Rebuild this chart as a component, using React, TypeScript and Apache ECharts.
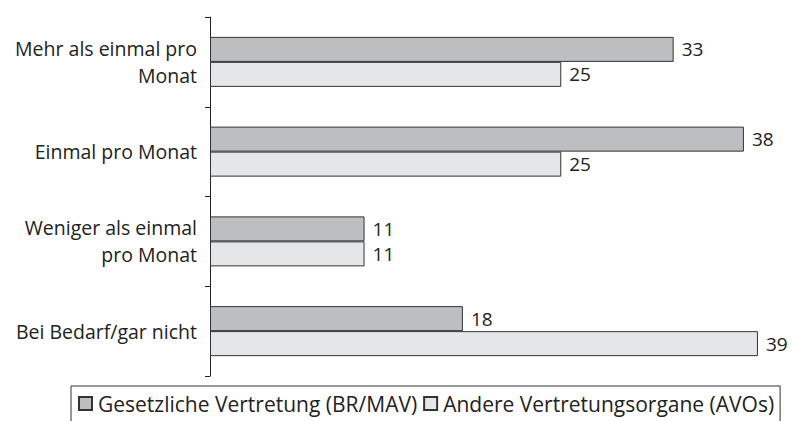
import React, { useEffect, useRef } from "react";
import * as echarts from "echarts";

const categories = [
  "Mehr als einmal pro\nMonat",
  "Einmal pro Monat",
  "Weniger als einmal\npro Monat",
  "Bei Bedarf/gar nicht",
];
const seriesNames = ["Gesetzliche Vertretung (BR/MAV)", "Andere Vertretungsorgane (AVOs)"];
const gesetzlich = [33, 38, 11, 18];
const andere = [25, 25, 11, 39];

const FONT = "'Open Sans', 'Noto Sans', sans-serif";

export default function App() {
  const ref = useRef<HTMLDivElement>(null);
  useEffect(() => {
    document.body.style.margin = "0";
    document.body.style.overflow = "hidden";
    if (!ref.current) return;
    const chart = echarts.init(ref.current, undefined, { renderer: "svg" });
    const labelStyle = {
      show: true,
      position: "right" as const,
      distance: 8,
      fontSize: 19,
      color: "#222",
      fontFamily: FONT,
    };
    chart.setOption({
      animation: false,
      textStyle: { fontFamily: FONT },
      grid: { left: 210, right: 20, top: 17, bottom: 45, containLabel: false },
      xAxis: { type: "value", min: 0, max: 40, show: false },
      yAxis: {
        type: "category",
        data: categories,
        inverse: true,
        axisLine: { show: true, lineStyle: { color: "#222", width: 1 } },
        axisTick: { show: true, length: 5, lineStyle: { color: "#222" } },
        axisLabel: {
          margin: 13,
          fontSize: 19.5,
          lineHeight: 27,
          color: "#222",
          fontFamily: FONT,
          align: "right",
        },
        splitLine: { show: false },
      },
      legend: {
        left: 71,
        top: 386,
        data: seriesNames,
        itemWidth: 13,
        itemHeight: 13,
        itemGap: 6,
        padding: [7, 6, 30, 7],
        borderColor: "#333",
        borderWidth: 1,
        textStyle: { fontSize: 21, color: "#222", fontFamily: FONT, padding: [0, 0, 0, 1] },
        icon: "rect",
      },
      series: [
        {
          name: seriesNames[0],
          type: "bar",
          data: gesetzlich,
          barWidth: 25,
          barGap: "0%",
          itemStyle: { color: "#bdbec0", borderColor: "#333", borderWidth: 1 },
          label: labelStyle,
        },
        {
          name: seriesNames[1],
          type: "bar",
          data: andere,
          barWidth: 25,
          barGap: "0%",
          itemStyle: { color: "#e5e6e7", borderColor: "#333", borderWidth: 1 },
          label: labelStyle,
        },
      ],
    });
    return () => chart.dispose();
  }, []);
  return <div ref={ref} style={{ width: 792, height: 421 }} />;
}
